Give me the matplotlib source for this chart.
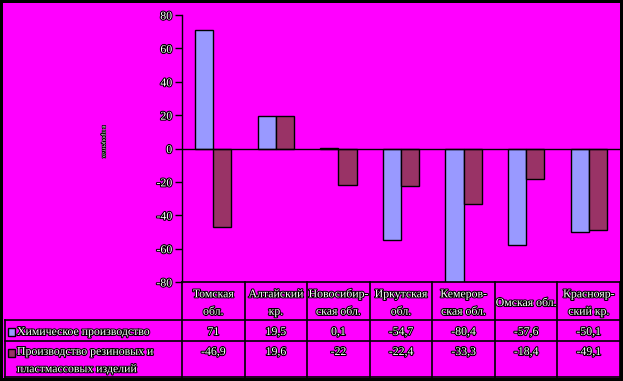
import matplotlib.pyplot as plt
import matplotlib.patheffects as pe
import numpy as np

W, H = 623, 381

regions = ['Томская\nобл.', 'Алтайский\nкр.', 'Новосибир-\nская обл.', 'Иркутская\nобл.',
           'Кемеров-\nская обл.', 'Омская обл.', 'Краснояр-\nский кр.']
series_names = ['Химическое производство', 'Производство резиновых и\nпластмассовых изделий']
chem = [71, 19.5, 0.1, -54.7, -80.4, -57.6, -50.1]
rubber = [-46.9, 19.6, -22, -22.4, -33.3, -18.4, -49.1]
colors = ['#9999FF', '#993366']
yticks = [-80, -60, -40, -20, 0, 20, 40, 60, 80]

plt.rcParams['font.family'] = ['Liberation Serif', 'DejaVu Serif']
fx = [pe.withStroke(linewidth=1.5, foreground='black')]


def fmt(v):
    return f'{v:g}'.replace('.', ',')


fig = plt.figure(figsize=(W / 100, H / 100), dpi=100, facecolor='black')
# magenta background inside the black frame
fig.add_artist(plt.Rectangle((3 / W, 3 / H), 617 / W, 375 / H, transform=fig.transFigure,
                             facecolor='#FF00FF', edgecolor='none', zorder=0))

# main chart
ax = fig.add_axes([182 / W, (H - 282) / H, 438 / W, 267 / H])
ax.set_facecolor('none')
x = np.arange(len(regions))
bw = 0.29
ax.bar(x - bw / 2, chem, bw, color=colors[0], edgecolor='black', linewidth=1, zorder=2)
ax.bar(x + bw / 2, rubber, bw, color=colors[1], edgecolor='black', linewidth=1, zorder=2)
ax.axhline(0, color='black', linewidth=1, zorder=3)
ax.set_xlim(-0.5, len(regions) - 0.5)
ax.set_ylim(-80, 80)
ax.set_xticks([])
ax.set_yticks(yticks)
ax.set_yticklabels([str(t) for t in yticks], color='white', fontsize=8.5, path_effects=fx)
ax.tick_params(axis='y', direction='out', length=5, width=1, color='black', pad=2)
for s in ['top', 'right', 'bottom']:
    ax.spines[s].set_visible(False)
ax.spines['left'].set_color('black')
ax.spines['left'].set_linewidth(1)
fig.text(104 / W, 1 - 142 / H, 'в процентах', rotation=-90, fontsize=4.5, color='white',
         ha='center', va='center', path_effects=[pe.withStroke(linewidth=1, foreground='black')])

# data table under the chart
unit = 438 / len(regions)
x0 = -0.5 - (182 - 3) / unit
tax = fig.add_axes([3 / W, 3 / H, 617 / W, 96 / H])
tax.set_xlim(x0, len(regions) - 0.5)
tax.set_ylim(96, 0)
tax.axis('off')


def px(p):
    return x0 + (p - 3) / unit


lk = dict(color='black', linewidth=1.2, clip_on=False)
tax.plot([-0.5, len(regions) - 0.5], [0, 0], **lk)
for yy in [38, 59, 95]:
    tax.plot([px(4.5), len(regions) - 0.5], [yy, yy], **lk)
tax.plot([px(4.5), px(4.5)], [38, 95], **lk)
for i in range(len(regions) + 1):
    tax.plot([i - 0.5, i - 0.5], [0, 95], **lk)

tk = dict(color='white', fontsize=8.5, path_effects=fx, ha='center', va='center',
          linespacing=1.6)
for i, r in enumerate(regions):
    tax.text(i, 21, r, **tk)
    tax.text(i, 50, fmt(chem[i]), **tk)
    tax.text(i, 70, fmt(rubber[i]), **tk)

for k, (name, c, yy) in enumerate(zip(series_names, colors, [50, 78.5])):
    sq_y = 50 if k == 0 else 71
    tax.add_patch(plt.Rectangle((px(8), sq_y - 4), 7 / unit, 8, facecolor=c,
                                edgecolor='black', linewidth=1, clip_on=False))
    tax.text(px(17), yy, name, color='white', fontsize=8.5, path_effects=fx,
             ha='left', va='center', linespacing=1.6)

fig.savefig('out.png', dpi=100, facecolor='black')
